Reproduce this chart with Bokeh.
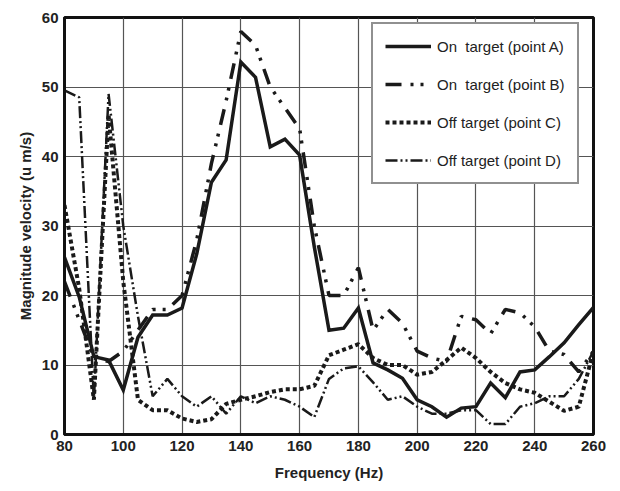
from bokeh.plotting import figure
from bokeh.models import Range1d, Legend, LegendItem, FixedTicker
from bokeh.embed import file_html
from bokeh.resources import INLINE

freq = list(range(80, 261, 5))

point_a = [25.5, 19.8, 11.2, 10.7, 6.4, 14, 17.2, 17.2, 18.2, 26, 36.3, 39.5, 53.6, 51.4,
           41.4, 42.5, 40.2, 27, 15, 15.3, 18.2, 10.3, 9.3, 8.1, 5, 4, 2.5, 3.8, 4, 7.4,
           5.3, 9, 9.3, 11.2, 13.2, 15.8, 18.3]
point_b = [22, 16.5, 11, 10.5, 12, 15, 18, 18, 20, 28, 39, 48, 58, 56, 50, 47, 44, 30, 20,
           20, 24, 15, 18, 16, 12, 11, 10.5, 17, 16.5, 14.5, 18, 17.5, 15.5, 12, 11.5, 9, 12]
point_c = [33, 21, 5, 46, 22, 5, 3.5, 3.5, 2.3, 1.8, 2.2, 4.4, 5, 5.5, 6.1, 6.5, 6.5, 7,
           11.4, 12.2, 13, 11, 10, 10, 8.6, 9, 10.7, 12.5, 11, 9, 7.4, 6.5, 6, 4.7, 3.4, 4, 12]
point_d = [49.5, 48.5, 5, 49, 30, 17, 5.5, 8, 5.5, 4, 5.5, 3, 5.5, 4.5, 5.5, 5, 4, 2.5, 8,
           9.5, 9.8, 7.5, 5, 5.5, 4, 3, 3, 3.5, 3.5, 1.5, 1.5, 4, 4.5, 5.5, 5.5, 8, 12]

labels = ["On  target (point A)", "On  target (point B)",
          "Off target (point C)", "Off target (point D)"]
x_ticks = [80, 100, 120, 140, 160, 180, 200, 220, 240, 260]
y_ticks = [0, 10, 20, 30, 40, 50, 60]

FONT = "Liberation Sans"

p = figure(width=620, height=491, output_backend="svg", toolbar_location=None,
           x_range=Range1d(80, 260), y_range=Range1d(0, 60),
           min_border_left=64, min_border_right=27, min_border_top=17,
           min_border_bottom=57)
p.background_fill_color = "white"
p.border_fill_color = "white"
p.outline_line_color = "#111111"
p.outline_line_width = 3

for ax in (p.xaxis[0], p.yaxis[0]):
    ax.major_label_text_font = FONT
    ax.major_label_text_font_style = "bold"
    ax.major_label_text_font_size = "15px"
    ax.major_label_text_color = "#222222"
    ax.axis_label_text_font = FONT
    ax.axis_label_text_font_style = "bold"
    ax.axis_label_text_font_size = "15px"
    ax.axis_label_text_color = "#222222"
    ax.major_tick_out = 0
    ax.major_tick_in = 0
    ax.minor_tick_out = 0
    ax.minor_tick_in = 0
    ax.axis_line_color = "#111111"
    ax.axis_line_width = 3
    ax.major_label_standoff = 6

p.xaxis.ticker = FixedTicker(ticks=x_ticks)
p.yaxis.ticker = FixedTicker(ticks=y_ticks)
p.xaxis.axis_label = "Frequency (Hz)"
p.yaxis.axis_label = "Magnitude velocity (u m/s)"
p.xaxis.axis_label_standoff = 10
p.yaxis.axis_label_standoff = 5

p.xgrid.ticker = FixedTicker(ticks=x_ticks)
p.ygrid.ticker = FixedTicker(ticks=y_ticks)
for g in (p.xgrid[0], p.ygrid[0]):
    g.grid_line_color = "#555555"
    g.grid_line_width = 1.2

ra = p.line(freq, point_a, line_color="#1a1a1a", line_width=3.5, line_join="miter")
rb = p.line(freq, point_b, line_color="#1a1a1a", line_width=3.5,
            line_dash="16 9 3 7 3 9")
rc = p.line(freq, point_c, line_color="#1a1a1a", line_width=4, line_dash="4 3")
rd = p.line(freq, point_d, line_color="#1a1a1a", line_width=2.5,
            line_dash="12 3 2 3 2 3")

legend = Legend(items=[LegendItem(label=labels[0], renderers=[ra]),
                       LegendItem(label=labels[1], renderers=[rb]),
                       LegendItem(label=labels[2], renderers=[rc]),
                       LegendItem(label=labels[3], renderers=[rd])],
                location=(307, 250))
legend.label_text_font = FONT
legend.label_text_font_size = "15px"
legend.label_text_color = "#222222"
legend.glyph_width = 46
legend.glyph_height = 20
legend.label_height = 20
legend.spacing = 18
legend.padding = 12
legend.margin = 0
legend.label_standoff = 6
legend.border_line_color = "#222222"
legend.border_line_width = 2
legend.background_fill_color = "white"
legend.background_fill_alpha = 1
p.add_layout(legend, "center")

open("out.html", "w").write(file_html(p, INLINE))
